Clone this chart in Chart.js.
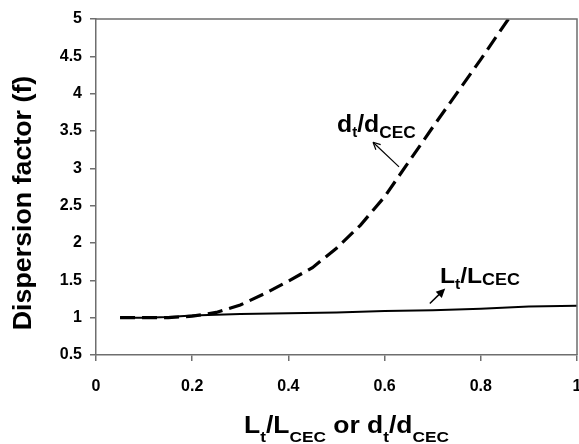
<!DOCTYPE html>
<html>
<head>
<meta charset="utf-8">
<script src="https://cdn.jsdelivr.net/npm/chart.js@4"></script>
<style>
  html, body { margin: 0; padding: 0; background: #fff; }
  #wrap { width: 579px; height: 444px; position: relative; }
</style>
</head>
<body>
<div id="wrap"><canvas id="chart" width="579" height="444"></canvas></div>
<script>
/* ------------------------------
   DATA
--------------------------------*/

const dX = [0.05, 0.1, 0.15, 0.2, 0.25, 0.3, 0.35, 0.4, 0.45, 0.5, 0.55, 0.6, 0.7, 0.8, 0.9];
const dY = [1.0, 1.0, 1.0, 1.02, 1.07, 1.17, 1.32, 1.49, 1.67, 1.93, 2.24, 2.62, 3.55, 4.46, 5.4];

const lX = [0.05, 0.1, 0.15, 0.2, 0.3, 0.4, 0.5, 0.6, 0.7, 0.8, 0.9, 1.0];
const lY = [1.0, 1.0, 1.01, 1.03, 1.05, 1.06, 1.07, 1.09, 1.1, 1.12, 1.15, 1.16];

const xTicks = [0, 0.2, 0.4, 0.6, 0.8, 1];
const yTicks = [0.5, 1, 1.5, 2, 2.5, 3, 3.5, 4, 4.5, 5];

const FONT = "'Liberation Sans', Arial, Helvetica, sans-serif";
const AXIS = "#6e6e6e";

/* ------------------------------
   RICH TEXT (subscripts)
--------------------------------*/

// parts: [text, size, dy]
function richText(ctx, parts, x, y, sx, align) {
    let w = 0;
    parts.forEach(p => {
        ctx.font = "bold " + p[1] + "px " + FONT;
        w += ctx.measureText(p[0]).width;
    });
    ctx.save();
    ctx.translate(x, y);
    ctx.scale(sx, 1);
    let cx = align === "center" ? -w / 2 : 0;
    ctx.fillStyle = "#000";
    ctx.textBaseline = "alphabetic";
    ctx.textAlign = "left";
    parts.forEach(p => {
        ctx.font = "bold " + p[1] + "px " + FONT;
        ctx.fillText(p[0], cx, p[2]);
        cx += ctx.measureText(p[0]).width;
    });
    ctx.restore();
}

function arrow(ctx, x1, y1, x2, y2, filled, lw, head) {
    const a = Math.atan2(y2 - y1, x2 - x1);
    ctx.save();
    ctx.strokeStyle = "#000";
    ctx.fillStyle = "#000";
    ctx.lineWidth = lw;
    ctx.beginPath();
    ctx.moveTo(x1, y1);
    ctx.lineTo(x2 - (filled ? Math.cos(a) * head * 0.8 : 0), y2 - (filled ? Math.sin(a) * head * 0.8 : 0));
    ctx.stroke();
    ctx.beginPath();
    ctx.moveTo(x2, y2);
    ctx.lineTo(x2 - head * Math.cos(a - 0.45), y2 - head * Math.sin(a - 0.45));
    if (filled) {
        ctx.lineTo(x2 - head * Math.cos(a + 0.45), y2 - head * Math.sin(a + 0.45));
        ctx.closePath();
        ctx.fill();
    } else {
        ctx.moveTo(x2, y2);
        ctx.lineTo(x2 - head * Math.cos(a + 0.45), y2 - head * Math.sin(a + 0.45));
        ctx.stroke();
    }
    ctx.restore();
}

/* ------------------------------
   FRAME, TITLES, LABELS
--------------------------------*/

const decor = {
    id: "decor",
    afterDraw(chart) {
        const ctx = chart.ctx;
        const a = chart.chartArea;
        const xs = chart.scales.x, ys = chart.scales.y;
        const px = v => xs.getPixelForValue(v);
        const py = v => ys.getPixelForValue(v);

        ctx.save();
        ctx.strokeStyle = AXIS;
        ctx.lineWidth = 1.5;
        ctx.beginPath();
        ctx.moveTo(a.left, a.top);
        ctx.lineTo(a.right, a.top);
        ctx.lineTo(a.right, a.bottom);
        ctx.stroke();
        ctx.restore();

        // y title
        ctx.save();
        ctx.translate(31, (a.top + a.bottom) / 2 + 16);
        ctx.rotate(-Math.PI / 2);
        richText(ctx, [["Dispersion factor (f)", 26, 0]], 0, 0, 1.03, "center");
        ctx.restore();

        // x title
        richText(ctx, [
            ["L", 23, 0], ["t", 15, 9], ["/L", 23, 0], ["CEC", 15, 9],
            [" or d", 23, 0], ["t", 15, 9], ["/d", 23, 0], ["CEC", 15, 9]
        ], (a.left + a.right) / 2 + 10, 433, 1.15, "center");

        // curve labels
        richText(ctx, [["d", 23, 0], ["t", 14, 5], ["/d", 23, 0], ["CEC", 16, 6]],
            px(0.501), py(3.49), 1.08, "left");
        arrow(ctx, px(0.63), py(3.02), px(0.576), py(3.35), false, 1.2, 8);

        richText(ctx, [["L", 22, 0], ["t", 14, 6], ["/L", 22, 0], ["CEC", 16, 2.5]],
            px(0.715), py(1.47), 1.12, "left");
        arrow(ctx, px(0.694), py(1.19), px(0.726), py(1.39), true, 1.5, 10);
    }
};

/* ------------------------------
   CHART
--------------------------------*/

const ctx = document.getElementById("chart");

new Chart(ctx, {
    type: "line",
    data: {
        datasets: [
            {
                label: "dt/dCEC",
                data: dX.map((x, i) => ({ x: x, y: dY[i] })),
                borderColor: "#000",
                borderWidth: 3.2,
                borderDash: [15, 7],
                pointRadius: 0,
                tension: 0,
                fill: false
            },
            {
                label: "Lt/LCEC",
                data: lX.map((x, i) => ({ x: x, y: lY[i] })),
                borderColor: "#000",
                borderWidth: 2,
                pointRadius: 0,
                tension: 0,
                fill: false
            }
        ]
    },
    options: {
        responsive: false,
        animation: false,
        devicePixelRatio: 1,
        layout: { padding: { top: 19, right: 2, left: 0, bottom: 0 } },
        plugins: { legend: { display: false }, tooltip: { enabled: false } },
        scales: {
            x: {
                type: "linear",
                min: 0, max: 1,
                afterBuildTicks: s => { s.ticks = xTicks.map(v => ({ value: v })); },
                afterFit: s => { s.height = 89; s.paddingLeft = 0; s.paddingRight = 0; },
                grid: { drawOnChartArea: false, drawTicks: true, tickLength: 6, color: AXIS, lineWidth: 1.5 },
                border: { display: true, color: AXIS, width: 1.5 },
                ticks: {
                    color: "#000",
                    padding: 16,
                    maxRotation: 0,
                    font: { family: FONT, size: 16, weight: "bold" },
                    callback: v => String(v)
                }
            },
            y: {
                type: "linear",
                min: 0.5, max: 5,
                afterBuildTicks: s => { s.ticks = yTicks.map(v => ({ value: v })); },
                afterFit: s => { s.width = 96; },
                grid: { drawOnChartArea: false, drawTicks: true, tickLength: 6, color: AXIS, lineWidth: 1.5 },
                border: { display: true, color: AXIS, width: 1.5 },
                ticks: {
                    color: "#000",
                    padding: 8,
                    font: { family: FONT, size: 16, weight: "bold" },
                    callback: v => String(v)
                }
            }
        }
    },
    plugins: [decor]
});
</script>
</body>
</html>
